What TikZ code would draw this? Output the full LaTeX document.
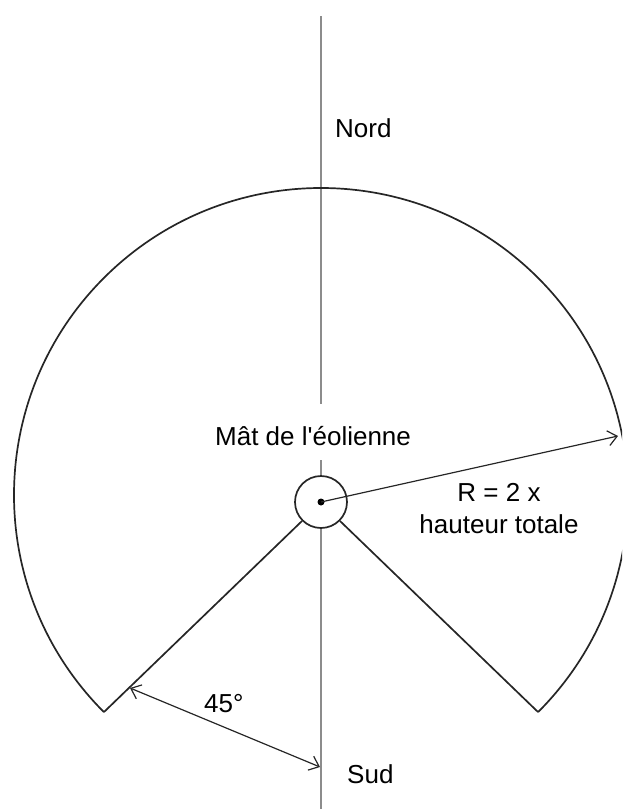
\documentclass[tikz,border=0pt]{standalone}
\usepackage{fontspec}
\setmainfont{Liberation Sans}
\usepackage{tikz}
\usetikzlibrary{arrows.meta}
\definecolor{axisColor}{gray}{0.55}

\begin{document}
\begin{tikzpicture}[x=1pt,y=-1pt]

            \tikzstyle{zoneEdge} = [line width=1.7pt, black!85];
            \tikzstyle{axisEdge} = [line width=1.8pt, axisColor];
            \tikzstyle{dimArrow} = [line width=1.2pt, black!85, -{Straight Barb[length=9pt,width=15pt]}];
            \tikzstyle{dimBoth} = [line width=1.2pt, black!85, {Straight Barb[length=9pt,width=15pt]}-{Straight Barb[length=9pt,width=15pt]}];
            \tikzstyle{label} = [inner sep=0pt, font=\fontsize{26}{32}\selectfont];

            \clip (0,0) rectangle (622,809);

            \coordinate (nordTop) at (321,16);
            \coordinate (sudBottom) at (321,815);
            \coordinate (arcC) at (321,495);
            \coordinate (arcL) at ([shift={(arcC)}]135:307);
            \coordinate (arcR) at ([shift={(arcC)}]45:307);
            \coordinate (rTip) at (618,436);
            \coordinate (angL) at (130,688);
            \coordinate (angR) at (320,767);

            \draw[axisEdge] (nordTop) -- (sudBottom);
            \draw[zoneEdge] (arcL) arc[start angle=135, end angle=405, radius=307];

            \node[label, fill=white, inner xsep=3pt, text height=41pt, text depth=15pt, anchor=base west] (mastLabel) at (212,445) {Mât de l\textquotesingle éolienne};

            \node[circle, draw, zoneEdge, fill=white, inner sep=0pt, minimum size=52pt] (mast) at (321,502) {};
            \fill (mast.center) circle (3.5);

            \draw[zoneEdge] (mast.225) -- (arcL);
            \draw[zoneEdge] (mast.315) -- (arcR);

            \draw[dimArrow] (mast.center) -- (rTip);
            \draw[dimBoth] (angL) -- (angR);

            \node[label, anchor=base west] (nord) at (335,137) {Nord};
            \node[label, anchor=base west] (sud) at (347,783) {Sud};
            \node[label, anchor=base west] (angle) at (204,712) {45°};
            \node[label, anchor=base] (rLabel) at (499,501) {R = 2 x};
            \node[label, anchor=base] (hLabel) at (499,533) {hauteur totale};
          \end{tikzpicture}
\end{document}
